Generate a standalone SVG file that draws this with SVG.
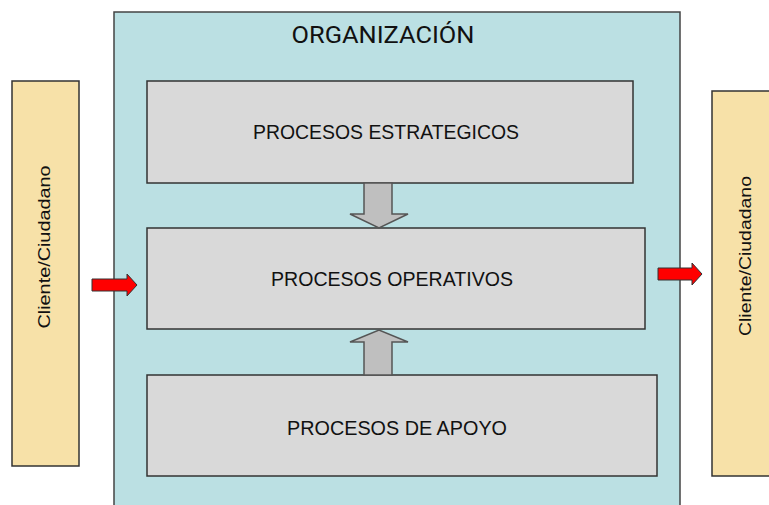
<svg xmlns="http://www.w3.org/2000/svg" width="769" height="505" viewBox="0 0 769 505">
<style>
.client{fill:#F7E1A8;stroke:#333;stroke-width:1.5}
.proc{fill:#D9D9D9;stroke:#333;stroke-width:1.5}
.org{fill:#BBE0E3;stroke:#444;stroke-width:1.5}
.t{font-family:"Liberation Sans",Arial,sans-serif;fill:#111;text-anchor:middle}
.gray{fill:#BFBFBF;stroke:#555;stroke-width:1.5}
.red{fill:#FF0000;stroke:#333;stroke-width:1}
</style>
<rect width="769" height="505" fill="#fff"/>
<g id="organizacion">
<rect class="org" x="114" y="12" width="566" height="500"/>
<text class="t" x="383" y="43" font-size="23.5" style="font-family:Roboto,'Liberation Sans',sans-serif" textLength="183" lengthAdjust="spacingAndGlyphs">ORGANIZACIÓN</text>
</g>
<g id="cliente-izq">
<rect class="client" x="12" y="81" width="67" height="385"/>
<text class="t" font-size="17" transform="translate(50,247) rotate(-90)" textLength="163" lengthAdjust="spacingAndGlyphs">Cliente/Ciudadano</text>
</g>
<g id="cliente-der">
<rect class="client" x="712" y="91" width="64" height="385"/>
<text class="t" font-size="17" transform="translate(751,256) rotate(-90)" textLength="160" lengthAdjust="spacingAndGlyphs">Cliente/Ciudadano</text>
</g>
<g id="estrategicos">
<rect class="proc" x="147" y="81" width="486" height="102"/>
<text class="t" x="386" y="139" font-size="19.5" textLength="266" lengthAdjust="spacingAndGlyphs">PROCESOS ESTRATEGICOS</text>
</g>
<g id="operativos">
<rect class="proc" x="147" y="228" width="498" height="101"/>
<text class="t" x="392" y="286" font-size="19.5" textLength="242" lengthAdjust="spacingAndGlyphs">PROCESOS OPERATIVOS</text>
</g>
<g id="apoyo">
<rect class="proc" x="147" y="375" width="510" height="101"/>
<text class="t" x="397" y="435" font-size="19.5" textLength="220" lengthAdjust="spacingAndGlyphs">PROCESOS DE APOYO</text>
</g>
<g id="connectors">
<polygon class="gray" points="364,183 392,183 392,214 408,214 379,228 350,214 364,214"/>
<polygon class="gray" points="364,375 392,375 392,342 408,342 379,330 350,342 364,342"/>
<polygon class="red" points="92,279 127,279 127,274 137,285 127,296 127,291 92,291"/>
<polygon class="red" points="658,268 692,268 692,263 702,274 692,285 692,280 658,280"/>
</g>
</svg>
